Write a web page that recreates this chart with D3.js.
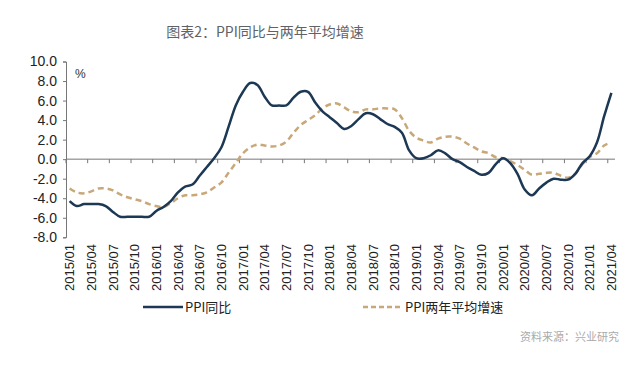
<!DOCTYPE html>
<html><head><meta charset="utf-8">
<script src="https://cdn.jsdelivr.net/npm/d3@7"></script>
<style>body{margin:0;background:#fff}svg{display:block}</style>
</head><body><svg id="c" width="640" height="366"></svg>
<script>
const months = [];
for (let yr = 2015; yr <= 2021; yr++) for (let m = 1; m <= 12; m++) { if (yr === 2021 && m > 4) break; months.push(yr + "/" + String(m).padStart(2, "0")); }
const ppiYoY = [
 -4.3,-4.8,-4.6,-4.6,-4.6,-4.8,-5.4,-5.9,-5.9,-5.9,-5.9,-5.9,
 -5.3,-4.9,-4.3,-3.4,-2.8,-2.6,-1.7,-0.8,0.1,1.2,3.3,5.5,
 6.9,7.8,7.6,6.4,5.5,5.5,5.5,6.3,6.9,6.9,5.8,4.9,
 4.3,3.7,3.1,3.4,4.1,4.7,4.6,4.1,3.6,3.3,2.7,0.9,
 0.1,0.1,0.4,0.9,0.6,0.0,-0.3,-0.8,-1.2,-1.6,-1.4,-0.5,
 0.1,-0.4,-1.5,-3.1,-3.7,-3.0,-2.4,-2.0,-2.1,-2.1,-1.5,-0.4,
 0.3,1.7,4.4,6.8];
const ppiTwoYear = [
 -3.0,-3.4,-3.5,-3.3,-3.0,-3.0,-3.2,-3.6,-3.9,-4.1,-4.3,-4.6,
 -4.8,-4.9,-4.5,-4.0,-3.7,-3.7,-3.6,-3.4,-2.9,-2.4,-1.4,-0.4,
 0.6,1.2,1.5,1.4,1.3,1.4,1.8,2.7,3.5,4.0,4.5,5.2,
 5.6,5.7,5.3,4.9,4.8,5.1,5.1,5.2,5.2,5.1,4.2,2.9,
 2.2,1.9,1.7,2.1,2.3,2.3,2.1,1.6,1.2,0.8,0.6,0.2,
 0.1,-0.2,-0.6,-1.1,-1.6,-1.5,-1.4,-1.4,-1.7,-1.9,-1.5,-0.5,
 0.2,0.6,1.4,1.7];
const yTicks = [10,8,6,4,2,0,-2,-4,-6,-8];
const title = "图表2：PPI同比与两年平均增速";
const seriesNames = ["PPI同比", "PPI两年平均增速"];
const source = "资料来源：兴业研究";

const svg = d3.select("#c");
const pLeft = 66, pRight = 615, pTop = 61.5, pBottom = 237.3;
const x = d3.scaleBand().domain(months).range([pLeft, pRight]);
const y = d3.scaleLinear().domain([-8, 10]).range([pBottom, pTop]);
const cx = d => x(d) + x.bandwidth() / 2;

svg.append("text").attr("x", 265).attr("y", 37).attr("text-anchor", "middle")
  .attr("font-family", "Noto Sans CJK SC").attr("font-size", 14).attr("fill", "#5f6368").text(title);

// y axis
const ya = svg.append("g").attr("transform", `translate(${pLeft},0)`)
  .call(d3.axisLeft(y).tickValues(yTicks).tickFormat(d3.format(".1f")).tickSize(3).tickPadding(6));
ya.select(".domain").attr("stroke", "#777");
ya.selectAll(".tick line").attr("stroke", "#777");
ya.selectAll("text").attr("font-family", "Liberation Sans").attr("font-size", 14).attr("fill", "#222")
  .text(d => d3.format(".1f")(d).replace("−", "-"));

svg.append("text").attr("x", 75).attr("y", 78).attr("font-family", "Liberation Sans")
  .attr("font-size", 12).attr("fill", "#333").text("%");

// zero axis with ticks
const tickMonths = months.filter((d, i) => i % 3 === 0);
svg.append("line").attr("x1", pLeft).attr("x2", pRight).attr("y1", y(0)).attr("y2", y(0)).attr("stroke", "#777");
svg.append("g").selectAll("line").data(tickMonths).join("line")
  .attr("x1", d => x(d)).attr("x2", d => x(d)).attr("y1", y(0)).attr("y2", y(0) + 4).attr("stroke", "#777");

// x labels
svg.append("g").selectAll("text").data(tickMonths).join("text")
  .attr("transform", d => `translate(${cx(d)},244) rotate(-90)`)
  .attr("text-anchor", "end").attr("dy", "0.35em")
  .attr("font-family", "Liberation Sans").attr("font-size", 13).attr("fill", "#222").text(d => d);

const line = vals => d3.line().x((d, i) => cx(months[i])).y(d => y(d)).curve(d3.curveCatmullRom.alpha(0.5))(vals);
svg.append("path").attr("d", line(ppiTwoYear)).attr("fill", "none").attr("stroke", "#c8a878")
  .attr("stroke-width", 2.5).attr("stroke-dasharray", "6,4");
svg.append("path").attr("d", line(ppiYoY)).attr("fill", "none").attr("stroke", "#1c3854").attr("stroke-width", 2.5);

// legend
svg.append("line").attr("x1", 143).attr("x2", 183).attr("y1", 307).attr("y2", 307).attr("stroke", "#1c3854").attr("stroke-width", 2.5);
svg.append("text").attr("x", 185).attr("y", 307).attr("dy", "0.35em").attr("font-family", "Noto Sans CJK SC")
  .attr("font-size", 13).attr("fill", "#222").text(seriesNames[0]);
svg.append("line").attr("x1", 363).attr("x2", 403).attr("y1", 307).attr("y2", 307).attr("stroke", "#c8a878")
  .attr("stroke-width", 2.5).attr("stroke-dasharray", "5,3");
svg.append("text").attr("x", 405).attr("y", 307).attr("dy", "0.35em").attr("font-family", "Noto Sans CJK SC")
  .attr("font-size", 13).attr("fill", "#222").text(seriesNames[1]);

svg.append("text").attr("x", 619).attr("y", 337).attr("dy", "0.35em").attr("text-anchor", "end")
  .attr("font-family", "Noto Sans CJK SC").attr("font-size", 11).attr("fill", "#aaa").text(source);
</script></body></html>
